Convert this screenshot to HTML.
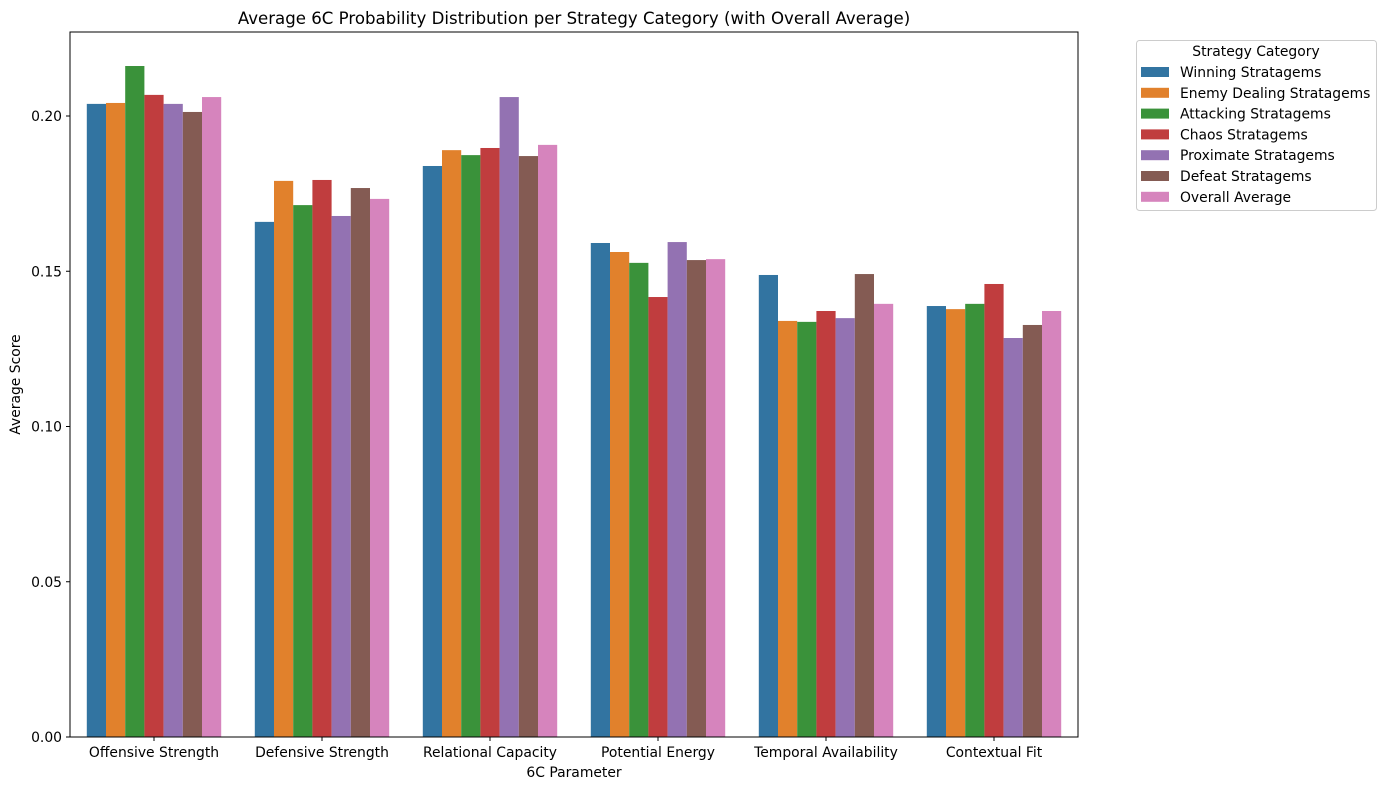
<!DOCTYPE html>
<html><head><meta charset="utf-8"><style>
body{margin:0;background:#fff;font-family:"DejaVu Sans","Liberation Sans",sans-serif;}
svg text{font-family:"DejaVu Sans","Liberation Sans",sans-serif;}
</style></head><body>
<svg id="chart" width="1386" height="790" xmlns="http://www.w3.org/2000/svg">
<rect width="1386" height="790" fill="#fff"/>
<text x="574" y="24" font-size="16.6" text-anchor="middle">Average 6C Probability Distribution per Strategy Category (with Overall Average)</text>
<g id="bars"></g><g id="axes"></g><g id="legend"></g>
</svg>
<script>
const categories=["Offensive Strength","Defensive Strength","Relational Capacity","Potential Energy","Temporal Availability","Contextual Fit"];
const seriesNames=["Winning Stratagems","Enemy Dealing Stratagems","Attacking Stratagems","Chaos Stratagems","Proximate Stratagems","Defeat Stratagems","Overall Average"];
const winning=[0.2039,0.1659,0.1839,0.1591,0.1488,0.1388];
const enemyDealing=[0.2042,0.1791,0.1890,0.1562,0.1340,0.1378];
const attacking=[0.2161,0.1713,0.1874,0.1527,0.1337,0.1395];
const chaos=[0.2068,0.1794,0.1897,0.1417,0.1372,0.1459];
const proximate=[0.2039,0.1678,0.2061,0.1594,0.1349,0.1285];
const defeat=[0.2013,0.1768,0.1871,0.1536,0.1491,0.1327];
const overall=[0.2061,0.1733,0.1907,0.1539,0.1395,0.1372];
const yTicks=[0,0.05,0.10,0.15,0.20];
const yTickLabels=["0.00","0.05","0.10","0.15","0.20"];
const series=[winning,enemyDealing,attacking,chaos,proximate,defeat,overall];
const colors=["#3274a1","#e1812c","#3a923a","#c03d3e","#9372b2","#845b53","#d684bd"];
const NS="http://www.w3.org/2000/svg";
const L=70,R=1078,T=32,B=737;
const y=v=>B-v*3105;
const x=i=>L+(i+0.5)*(R-L)/categories.length;
const step=(R-L)/categories.length, bw=step*0.8/series.length;
const FS=13.9;
function mk(tag,attrs,parent){const e=document.createElementNS(NS,tag);for(const k in attrs)e.setAttribute(k,attrs[k]);parent.appendChild(e);return e;}
const gb=document.getElementById('bars'),ga=document.getElementById('axes'),gl=document.getElementById('legend');
series.forEach((s,si)=>s.forEach((v,ci)=>{
 const r=mk('rect',{x:x(ci)-step*0.4+si*bw,y:y(v),width:bw,height:B-y(v),fill:colors[si]},gb);
 
 
}));
const frame=mk('rect',{x:L,y:T,width:R-L,height:B-T,fill:'none',stroke:'#000','stroke-width':1},ga);


yTicks.forEach((t,i)=>{
 mk('line',{x1:L-4,x2:L,y1:y(t),y2:y(t),stroke:'#000'},ga);
 const tx=mk('text',{x:L-8,y:y(t)+5,'font-size':FS,'text-anchor':'end'},ga);tx.textContent=yTickLabels[i];
 
 
});
categories.forEach((c,i)=>{
 mk('line',{x1:x(i),x2:x(i),y1:B,y2:B+4,stroke:'#000'},ga);
 const tx=mk('text',{x:x(i),y:B+20,'font-size':FS,'text-anchor':'middle'},ga);tx.textContent=c;
 
 
});
let t=mk('text',{x:(L+R)/2,y:777,'font-size':FS,'text-anchor':'middle'},ga);t.textContent="6C Parameter";


t=mk('text',{x:20,y:(T+B)/2,'font-size':FS,'text-anchor':'middle',transform:`rotate(-90 20 ${(T+B)/2})`},ga);t.textContent="Average Score";


const box=mk('rect',{x:1136.5,y:40.5,width:240,height:170,rx:3,fill:'#fff',stroke:'#ccc'},gl);


t=mk('text',{x:1256,y:56,'font-size':FS,'text-anchor':'middle'},gl);t.textContent="Strategy Category";


seriesNames.forEach((n,i)=>{
 const g=mk('g',{},gl);
 
 
 mk('rect',{x:1141,y:67+i*20.8,width:28,height:10,fill:colors[i]},g);
 const tx=mk('text',{x:1180,y:77+i*20.8,'font-size':FS},g);tx.textContent=n;
});
</script>
</body></html>
